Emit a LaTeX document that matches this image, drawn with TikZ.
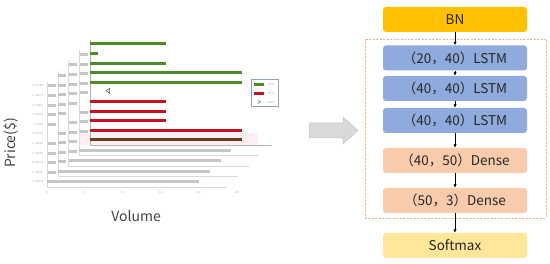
\documentclass[tikz,border=0pt]{standalone}
\usepackage{fontspec}
\usepackage{tikz}
\usetikzlibrary{arrows.meta}
\newfontfamily\cjkfont{Noto Sans CJK SC}
\definecolor{bnorange}{HTML}{FFC000}
\definecolor{lstmblue}{HTML}{8FAADC}
\definecolor{densepeach}{HTML}{F8CBAD}
\definecolor{softyellow}{HTML}{FFE699}
\definecolor{frameorange}{HTML}{F4B183}
\definecolor{askgreen}{HTML}{4F8A2B}
\definecolor{bidred}{HTML}{C8101E}
\definecolor{lastbrown}{HTML}{6E3A1C}
\definecolor{legendedge}{HTML}{8EA2B8}
\definecolor{labelgray}{HTML}{404040}
\definecolor{lightpink}{HTML}{FDEEF3}

\tikzset{
  layerbox/.style={rounded corners=3pt, minimum width=144pt, minimum height=25pt, inner sep=0pt,
    font=\cjkfont\fontsize{13.5}{13.5}\selectfont, text=black!85},
  flowarrow/.style={-{Latex[length=3.5pt,width=3.5pt]}, line width=0.9pt},
  tinylabel/.style={font=\fontsize{3}{3}\selectfont, text=gray!80, inner sep=0.5pt},
  axislabel/.style={font=\cjkfont\fontsize{14}{14}\selectfont, text=labelgray},
}

\begin{document}
\begin{tikzpicture}[x=1pt, y=-1pt]
  \useasboundingbox (0,0) rectangle (550,264);

  % order book snapshots, back layers
  \foreach \k in {0,...,3} {
    \pgfmathsetmacro{\xo}{47+10.75*\k}
    \pgfmathsetmacro{\yo}{187-10.5*\k}
    \draw[gray!30, line width=0.4pt] (\xo,\yo-105) -- (\xo,\yo) -- (\xo+180,\yo);
    \fill[gray!45] (\xo,\yo-6.5) rectangle (\xo+152,\yo-3.5);
    \foreach \i in {1,2,3,4,6,7,8,9,10}
      \fill[gray!45] (\xo+0.5,\yo-6.5-9.6*\i) rectangle (\xo+8.5,\yo-3.5-9.6*\i);
  }
  \foreach \v [count=\i from 0] in {0.4402,0.4406,0.4418,0.4429,0.4439,0.4476,0.441,0.4456,0.4465,0.4477,0.4449}
    \node[tinylabel, anchor=east] (ylab\i) at (44,182-9.6*\i) {\v};
  \foreach \v [count=\j from 0] in {0,5,10,15,20,25}
    \node[tinylabel] (xlab\j) at (47+38*\j,193) {\v};

  % front snapshot
  \fill[lightpink] (80,133) rectangle (258,145);
  \draw[gray!60, line width=0.5pt] (90,40) -- (90,145) -- (272,145);
  \foreach \t in {0,...,23}
    \draw[gray!60, line width=0.4pt] (90+7.6*\t,145) -- (90+7.6*\t,146.5);
  \foreach \len/\col [count=\i from 0] in {152/lastbrown,152/bidred,76/bidred,76/bidred,76/bidred}
    \fill[\col] (90,138.5-9.6*\i) rectangle (90+\len,141.5-9.6*\i);
  \foreach \len [count=\i from 6] in {152,152,76,8,76}
    \fill[askgreen] (90,138.5-9.6*\i) rectangle (90+\len,141.5-9.6*\i);
  \draw[black!70, line width=0.5pt] (106,90.7) -- (109.5,88.5) -- (109.5,92.9) -- cycle;

  % legend
  \draw[fill=white, draw=legendedge, line width=0.5pt] (251,79) rectangle (278,106);
  \fill[askgreen] (254,83) rectangle (264,86.5);
  \fill[bidred] (254,92) rectangle (264,95.5);
  \draw[black!70, line width=0.4pt] (258,100.5) -- (258,103.5) -- (261,102) -- cycle;
  \node[tinylabel, anchor=west] (asklab) at (267,84.7) {Ask};
  \node[tinylabel, anchor=west] (bidlab) at (267,93.7) {Bid};
  \node[tinylabel, anchor=west] (midlab) at (267,102) {Mid};

  \node[axislabel, rotate=90] (pricelab) at (11.5,143) {Price(\$)};
  \node[axislabel] (volumelab) at (136,216) {Volume};

  % big arrow
  \draw[fill=gray!30, draw=gray!45, line width=0.5pt] (309,123) -- (343,123) -- (343,117) -- (358,130.5)
    -- (343,144) -- (343,138) -- (309,138) -- cycle;

  % network
  \draw[frameorange, line width=0.7pt, dash pattern=on 2pt off 1.5pt] (365,39) rectangle (546,218);
  \node[layerbox, fill=bnorange] (bn) at (455,19.5) {BN};
  \node[layerbox, fill=lstmblue] (lstma) at (455,58) {（20，40）LSTM};
  \node[layerbox, fill=lstmblue] (lstmb) at (455,88.5) {（40，40）LSTM};
  \node[layerbox, fill=lstmblue] (lstmc) at (455,120.5) {（40，40）LSTM};
  \node[layerbox, fill=densepeach] (densea) at (455,160.5) {（40，50）Dense};
  \node[layerbox, fill=densepeach] (denseb) at (455,200.5) {（50，3）Dense};
  \node[layerbox, fill=softyellow] (softmax) at (455,245.5) {Softmax};

  \draw[flowarrow] (bn) -- (lstma);
  \draw[flowarrow] (lstma) -- (lstmb);
  \draw[flowarrow] (lstmb) -- (lstmc);
  \draw[flowarrow] (lstmc) -- (densea);
  \draw[flowarrow] (densea) -- (denseb);
  \draw[flowarrow] (denseb) -- (softmax);
\end{tikzpicture}
\end{document}
